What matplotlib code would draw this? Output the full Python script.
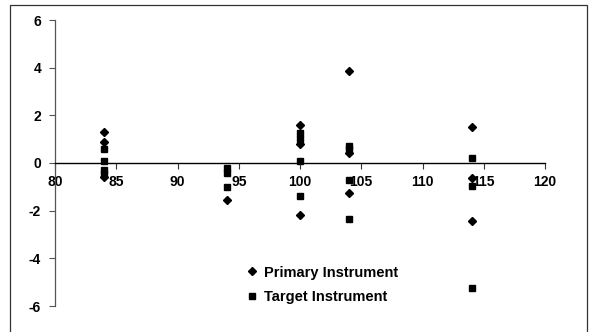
import matplotlib
matplotlib.use("Agg")
import matplotlib.pyplot as plt
from matplotlib.patches import Rectangle

# Data
primary_x = [84, 84, 84, 94, 100, 100, 100, 104, 104, 104, 114, 114, 114]
primary_y = [1.3, 0.9, -0.6, -1.55, 1.6, 0.8, -2.2, 3.85, 0.4, -1.25, 1.5, -0.65, -2.45]
target_x = [84, 84, 84, 84, 94, 94, 94, 100, 100, 100, 100, 104, 104, 104, 104, 114, 114, 114]
target_y = [0.6, 0.1, -0.3, -0.45, -0.2, -0.4, -1.0, 1.25, 1.0, 0.1, -1.4, 0.7, 0.6, -0.7, -2.35, 0.2, -0.95, -5.25]

x_ticks = [80, 85, 90, 95, 100, 105, 110, 115, 120]
y_ticks = [-6, -4, -2, 0, 2, 4, 6]
series_names = ["Primary Instrument", "Target Instrument"]

plt.rcParams['font.family'] = ['Liberation Sans', 'DejaVu Sans']
plt.rcParams['font.weight'] = 'bold'

fig = plt.figure(figsize=(5.95, 3.32), dpi=100)
ax = fig.add_axes([55/595, 1-306/332, (545-55)/595, (306-20)/332])

ax.plot(primary_x, primary_y, linestyle='none', marker='D', markersize=4,
        color='black', label=series_names[0])
ax.plot(target_x, target_y, linestyle='none', marker='s', markersize=4.5,
        color='black', label=series_names[1])

ax.set_xlim(80, 120)
ax.set_ylim(-6, 6)
ax.set_xticks(x_ticks)
ax.set_yticks(y_ticks)
ax.set_xticklabels([str(v) for v in x_ticks])
ax.set_yticklabels([str(v) for v in y_ticks])

ax.spines['top'].set_visible(False)
ax.spines['right'].set_visible(False)
ax.spines['bottom'].set_position(('data', 0))
ax.spines['bottom'].set_color('black')
ax.spines['left'].set_color('#555555')
ax.spines['bottom'].set_linewidth(1.0)
ax.spines['left'].set_linewidth(0.9)
ax.tick_params(axis='x', direction='out', length=4, width=0.8, pad=5, labelsize=10,
               colors='#333333', labelcolor='black')
ax.tick_params(axis='y', direction='out', length=4, width=0.8, pad=6, labelsize=10,
               colors='#555555', labelcolor='black')

leg = fig.legend(loc='center left', bbox_to_anchor=(245/595, 1-285/332),
                 bbox_transform=fig.transFigure, frameon=False,
                 prop={'weight': 'bold', 'size': 10.5}, handletextpad=0.3,
                 handlelength=1.0, labelspacing=0.75, borderpad=0, borderaxespad=0)

fig.patches.append(Rectangle((10/595, -0.05), 577/595, 1.05-5/332, transform=fig.transFigure,
                             fill=False, edgecolor='#333333', linewidth=0.9))

fig.savefig('out.png', dpi=100)
